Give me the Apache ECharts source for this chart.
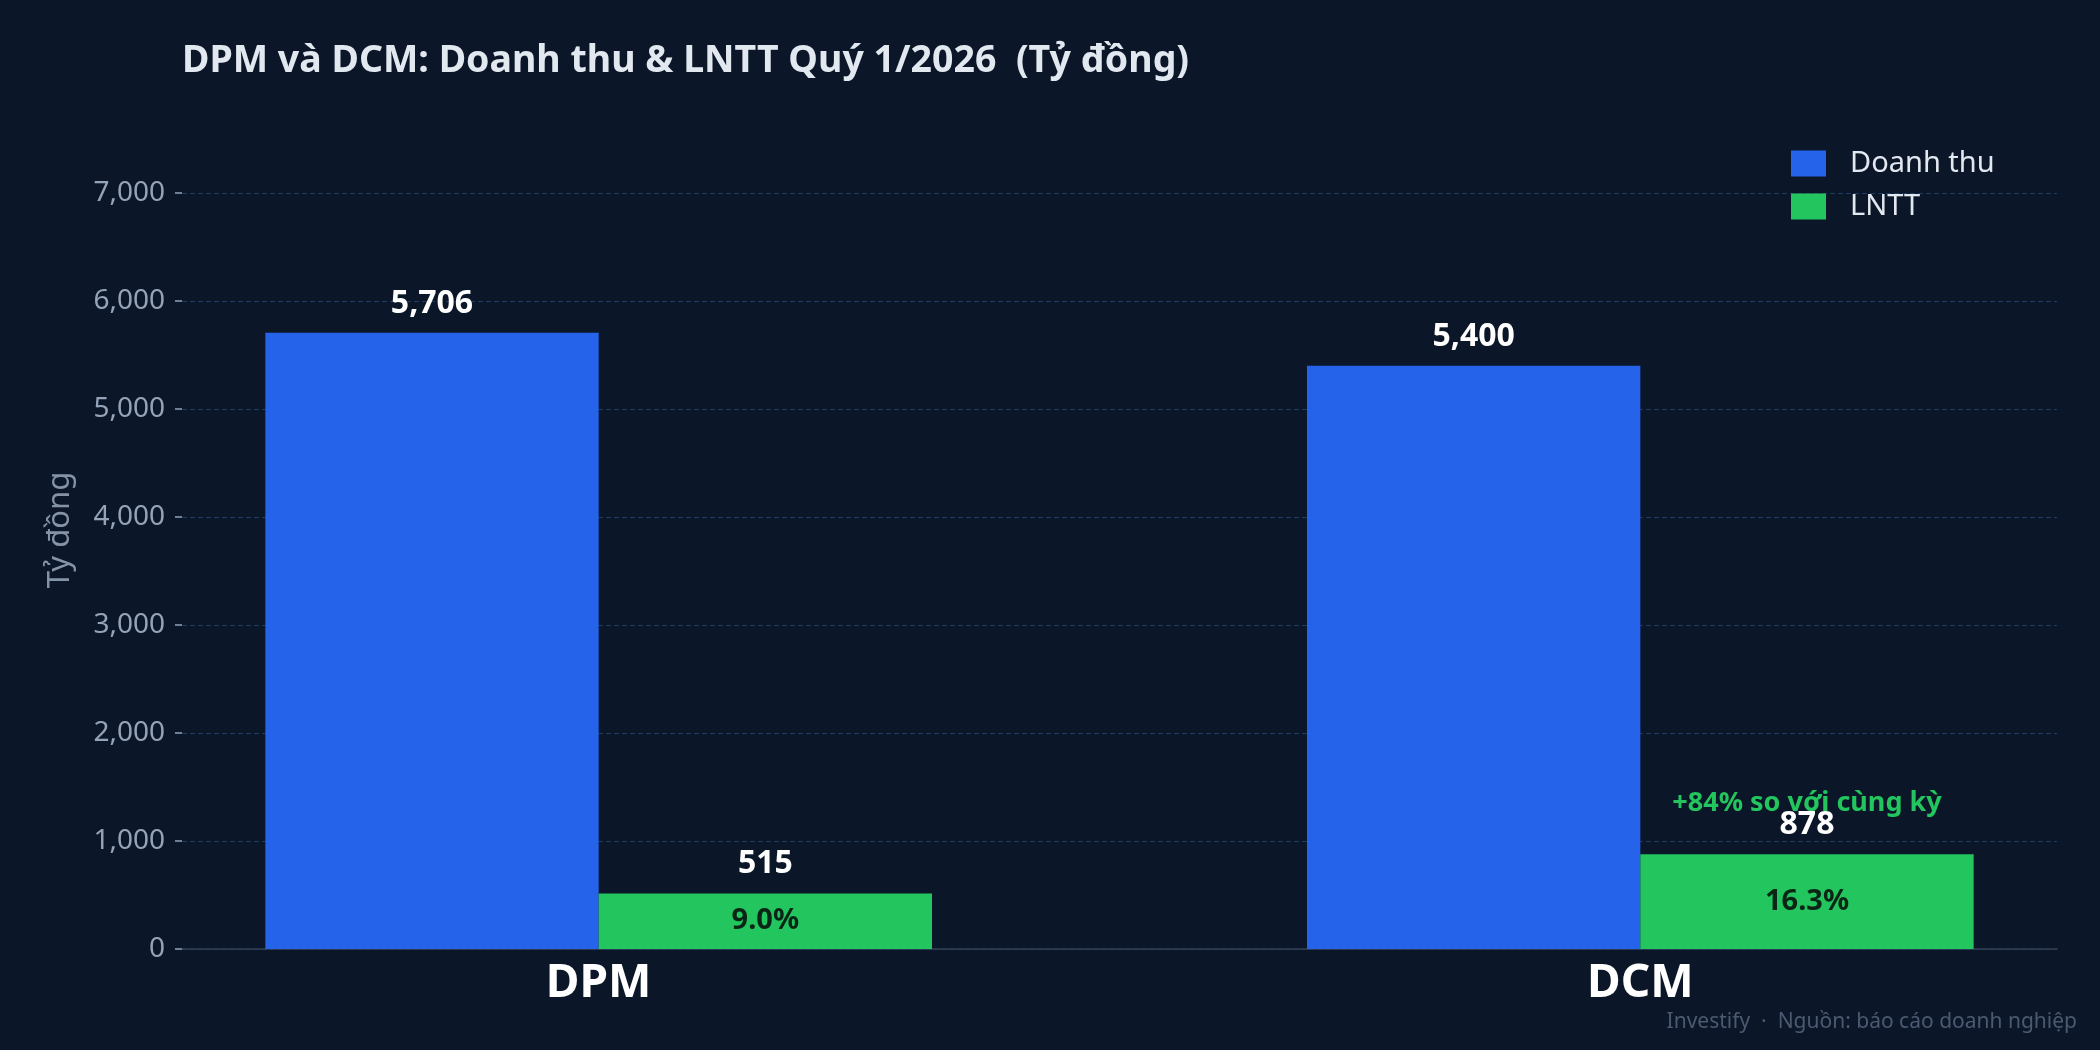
<!DOCTYPE html>
<html>
<head>
<meta charset="utf-8">
<title>DPM và DCM: Doanh thu & LNTT Quý 1/2026</title>
<script src="https://cdn.jsdelivr.net/npm/echarts@6.0.0/dist/echarts.min.js"></script>
<style>
    html, body { margin: 0; padding: 0; background: #0b1628; }
    #chart { width: 2100px; height: 1050px; }
</style>
</head>
<body>
<div id="chart"></div>
<script>
// dữ liệu Quý 1/2026 (tỷ đồng)
var companies = ['DPM', 'DCM'];
var revenue = [5706, 5400];
var profit = [515, 878];
var profitYoY = [null, 84];   // % so với cùng kỳ
var yTicks = [0, 1000, 2000, 3000, 4000, 5000, 6000, 7000];

var FONT = '"Noto Sans", "DejaVu Sans", sans-serif';
var BAR_FRAC = 0.32;   // độ rộng mỗi cột, theo đơn vị trục x

function fmt(v) {
    return Number(v).toLocaleString('en-US');
}

function pairs(values) {
    return companies.map(function (c, i) { return [i, values[i]]; });
}

var myChart = echarts.init(document.getElementById('chart'), null, { renderer: 'canvas' });

var option = {
    backgroundColor: '#0b1628',
    animation: false,
    textStyle: { fontFamily: FONT },
    title: {
        text: 'DPM và DCM: Doanh thu & LNTT Quý 1/2026  (Tỷ đồng)',
        left: 182,
        top: 39,
        padding: 0,
        textStyle: { color: '#e2e8f0', fontSize: 37.5, fontWeight: 'bold', lineHeight: 44, fontFamily: FONT }
    },
    legend: {
        data: ['Doanh thu', 'LNTT'],
        orient: 'vertical',
        left: 1791,
        top: 149,
        padding: 0,
        itemWidth: 35,
        itemHeight: 26,
        itemGap: 14,
        icon: 'rect',
        selectedMode: false,
        textStyle: { color: '#e2e8f0', fontSize: 29, lineHeight: 26, padding: [0, 0, 0, 19], fontFamily: FONT }
    },
    grid: { left: 182, right: 43, top: 193, bottom: 101, containLabel: false },
    xAxis: {
        type: 'value',
        min: -0.4,
        max: 1.4,
        interval: 0.2,
        splitLine: { show: false },
        axisTick: { show: false },
        axisLine: { show: true, onZero: false, lineStyle: { color: '#334155', width: 1.5 } },
        axisLabel: {
            margin: 12,
            color: '#ffffff',
            fontSize: 46,
            fontWeight: 'bold',
            lineHeight: 46,
            fontFamily: FONT,
            formatter: function (v) {
                var i = Math.round(v);
                return (Math.abs(v - i) < 1e-6 && companies[i]) ? companies[i] : '';
            }
        }
    },
    yAxis: {
        type: 'value',
        min: yTicks[0],
        max: yTicks[yTicks.length - 1],
        interval: yTicks[1] - yTicks[0],
        name: 'Tỷ đồng',
        nameLocation: 'middle',
        nameRotate: 90,
        nameGap: 106,
        nameTextStyle: { color: '#8593a8', fontSize: 31, fontFamily: FONT, padding: [0, 0, 0, 82] },
        axisLine: { show: false, onZero: false },
        axisTick: { show: true, length: 7, lineStyle: { color: '#94a3b8', width: 1.5 } },
        axisLabel: { color: '#94a3b8', fontSize: 28, margin: 17, fontFamily: FONT, formatter: fmt },
        splitLine: { lineStyle: { color: '#1e3a5f', type: [5, 3], width: 1 } }
    },
    series: [
        {
            name: 'Doanh thu',
            type: 'bar',
            barWidth: (BAR_FRAC * 100) + '%',
            barGap: '0%',
            data: pairs(revenue),
            itemStyle: { color: '#2563eb' },
            label: {
                show: true,
                position: 'top',
                distance: 13,
                color: '#ffffff',
                fontSize: 32,
                fontWeight: 'bold',
                lineHeight: 32,
                fontFamily: FONT,
                formatter: function (p) { return fmt(p.value[1]); }
            }
        },
        {
            name: 'LNTT',
            type: 'bar',
            barWidth: (BAR_FRAC * 100) + '%',
            barGap: '0%',
            data: pairs(profit),
            itemStyle: { color: '#22c55e' },
            label: {
                show: true,
                position: 'inside',
                color: '#0a2416',
                fontSize: 29,
                fontWeight: 'bold',
                fontFamily: FONT,
                formatter: function (p) {
                    return (profit[p.dataIndex] / revenue[p.dataIndex] * 100).toFixed(1) + '%';
                }
            }
        },
        {
            // nhãn giá trị LNTT (và tăng trưởng) phía trên cột xanh
            name: 'LNTT nhãn',
            type: 'custom',
            silent: true,
            z: 10,
            data: pairs(profit),
            encode: { x: 0, y: 1 },
            renderItem: function (params, api) {
                var i = params.dataIndex;
                var pt = api.coord([api.value(0), api.value(1)]);
                var shift = api.size([BAR_FRAC / 2, 0])[0];
                var text = '{v|' + fmt(api.value(1)) + '}';
                if (profitYoY[i] != null) {
                    text = '{a|+' + profitYoY[i] + '% so với cùng kỳ}\n' + text;
                }
                return {
                    type: 'text',
                    x: pt[0] + shift,
                    y: pt[1] - 13,
                    style: {
                        text: text,
                        align: 'center',
                        verticalAlign: 'bottom',
                        rich: {
                            v: { fill: '#ffffff', fontSize: 32, fontWeight: 'bold', lineHeight: 32, fontFamily: FONT },
                            a: { fill: '#22c55e', fontSize: 27, fontWeight: 'bold', lineHeight: 11, fontFamily: FONT }
                        }
                    }
                };
            }
        }
    ],
    graphic: [
        {
            type: 'text',
            right: 23,
            top: 1012,
            style: {
                text: 'Investify  ·  Nguồn: báo cáo doanh nghiệp',
                fill: '#4b5a70',
                font: '21px ' + FONT
            }
        }
    ]
};

myChart.setOption(option);
</script>
</body>
</html>
